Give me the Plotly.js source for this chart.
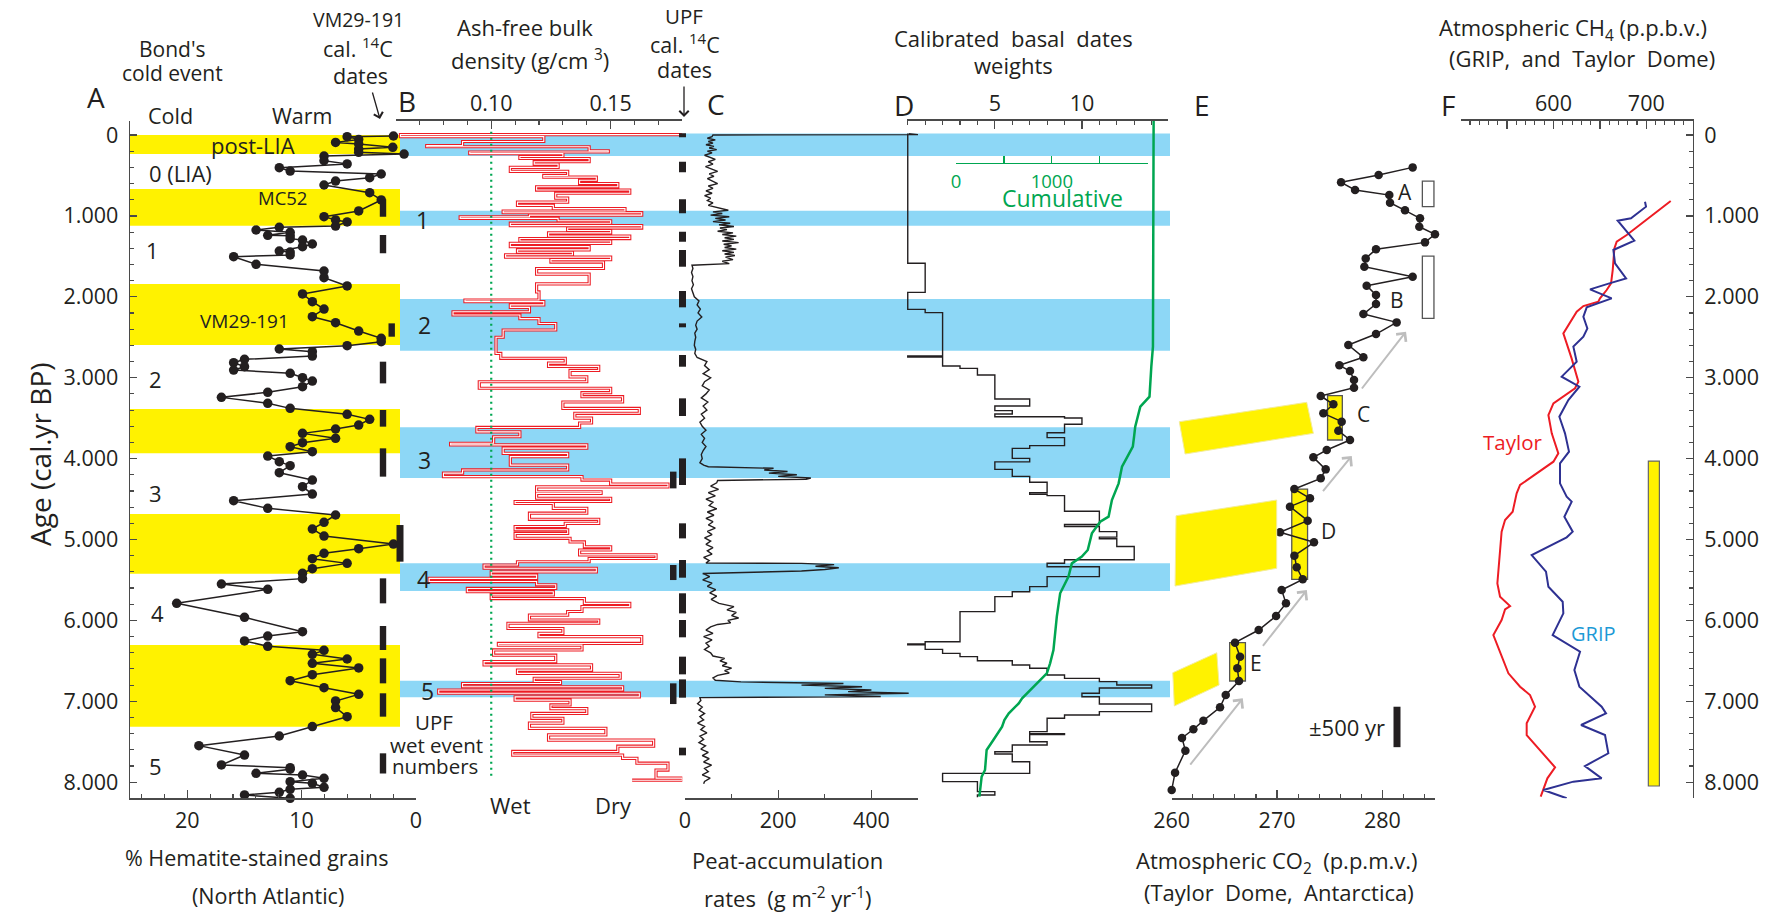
<!DOCTYPE html>
<html><head><meta charset="utf-8">
<script src="https://cdn.plot.ly/plotly-3.0.1.min.js"></script>
<style>html,body{margin:0;padding:0;background:#fff}#chart{width:1770px;height:912px}</style>
</head><body><div id="chart"></div>
<script>
// ---------------- DATA ----------------
// Y axis (age, cal. yr BP)
const AGE_TICKS = [0,1000,2000,3000,4000,5000,6000,7000,8000];
const AGE_LABELS = ['0','1.000','2.000','3.000','4.000','5.000','6.000','7.000','8.000'];

// A: % hematite-stained grains (North Atlantic)
const A_age = [12,21,54,91,111,152,173,214,235,260,317,358,404,445,482,527,569,618,713,803,939,1009,1050,1075,1125,1141,1174,1203,1240,1244,1281,1298,1347,1380,1434,1446,1483,1504,1599,1681,1763,1866,1965,2060,2151,2246,2320,2423,2513,2555,2604,2645,2678,2732,2773,2814,2864,2905,2946,3000,3041,3111,3181,3243,3317,3379,3453,3515,3585,3634,3688,3749,3803,3853,3914,3968,4038,4087,4174,4265,4347,4438,4520,4615,4697,4788,4870,4957,5056,5113,5171,5237,5295,5361,5418,5484,5550,5616,5789,5962,6139,6193,6254,6320,6370,6419,6477,6531,6588,6671,6745,6832,6914,6996,7078,7190,7313,7429,7548,7664,7787,7820,7840,7890,7911,7952,7993,8014,8063,8088,8125,8158,8199];
const A_val = [1.97,6.02,5.01,7.03,5.01,2.03,5.01,5.01,1.04,8.04,8.04,6.02,11.95,11.0,3.04,4.05,7.03,8.04,4.05,3.04,5.01,8.04,7.03,6.02,7.03,11.95,13.98,11.0,12.96,11.0,11.0,9.92,9.06,9.92,11.95,11.0,11.0,15.94,13.98,8.04,8.04,6.02,9.92,9.06,8.04,9.06,7.03,5.01,3.04,3.04,6.02,11.95,9.06,9.06,14.99,15.94,14.99,15.94,11.0,9.92,9.06,9.92,12.96,17.01,12.96,11.0,6.02,4.05,5.01,7.03,9.92,7.03,9.92,11.0,9.06,12.96,11.95,11.0,11.95,9.06,9.92,9.06,15.94,12.96,7.03,8.04,9.06,8.04,1.97,5.01,8.04,9.06,6.02,9.06,9.92,9.92,17.01,12.96,20.92,14.99,9.92,12.96,14.99,12.96,8.04,9.06,6.02,9.06,5.01,9.06,11.0,8.04,5.01,7.03,7.03,6.02,9.06,11.95,18.98,14.99,17.01,11.0,11.0,13.98,9.92,8.04,11.0,9.06,8.04,11.0,11.95,14.99,11.0];

// Bond warm intervals (yellow) and UPF wet events (blue)
const BOND_start = [0,667,1842,3387,4685,6304];
const BOND_end   = [235,1121,2596,3935,5423,7314];
const WET_start = [-20,935,2027,3613,5294,6745];
const WET_end   = [260,1121,2666,4240,5637,6950];
const WET_labels = ['1','2','3','4','5'];

// VM29-191 cal 14C dates (age ranges)
const VM_start = [795,1236,2328,2802,3399,3873,4821,5480,6069,6469,6901,7643];
const VM_end   = [1009,1463,2493,3070,3605,4223,5274,5789,6366,6778,7190,7891];
const VM_col   = [0,0,1,0,0,0,2,0,0,0,0,0];
// UPF cal 14C dates
const UPF_start = [-21,330,795,1195,1421,1928,2328,2719,3255,3997,4800,5253,5665,5995,6448,6729,7573];
const UPF_end   = [29,461,968,1318,1628,2130,2377,2864,3473,4326,4986,5472,5913,6209,6667,6955,7668];
const UPF2_start = [4161,5315,6778];
const UPF2_end   = [4368,5501,7034];

// B: ash-free bulk density (g/cm3)
const B_age = [-20,-5,20,80,130,145,195,210,230,265,290,330,360,400,450,500,520,560,600,640,680,720,780,830,870,910,940,960,990,1010,1030,1060,1090,1120,1150,1180,1210,1250,1280,1310,1340,1380,1420,1450,1480,1510,1540,1570,1650,1720,1840,1940,2040,2060,2100,2130,2185,2225,2270,2330,2410,2500,2700,2760,2820,2860,2910,2990,3050,3130,3185,3235,3300,3380,3440,3500,3560,3615,3670,3730,3810,3830,3870,3935,3976,4080,4140,4180,4223,4265,4315,4350,4410,4430,4490,4530,4555,4615,4675,4750,4800,4840,4880,4925,4985,5030,5090,5130,5190,5235,5275,5315,5355,5400,5440,5480,5520,5560,5605,5645,5685,5730,5790,5830,5890,5935,5995,6035,6100,6160,6200,6285,6305,6365,6430,6510,6550,6615,6655,6715,6755,6780,6820,6860,6900,6945,6985,7045,7090,7150,7210,7270,7335,7415,7480,7555,7620,7665,7705,7765,7850,7950,7975];
const B_val = [0.180,0.062,0.122,0.088,0.073,0.141,0.149,0.091,0.130,0.112,0.141,0.118,0.128,0.108,0.132,0.122,0.144,0.137,0.153,0.119,0.158,0.127,0.132,0.111,0.126,0.156,0.105,0.163,0.116,0.087,0.128,0.150,0.108,0.163,0.132,0.150,0.124,0.158,0.112,0.150,0.108,0.141,0.111,0.134,0.106,0.150,0.125,0.147,0.119,0.141,0.119,0.120,0.089,0.122,0.108,0.116,0.084,0.112,0.120,0.127,0.105,0.102,0.104,0.131,0.124,0.145,0.133,0.140,0.095,0.150,0.138,0.155,0.130,0.162,0.135,0.142,0.137,0.094,0.112,0.101,0.083,0.140,0.105,0.132,0.108,0.132,0.088,0.080,0.138,0.150,0.174,0.119,0.146,0.119,0.150,0.110,0.126,0.140,0.116,0.145,0.131,0.110,0.132,0.110,0.133,0.139,0.150,0.137,0.169,0.141,0.111,0.097,0.144,0.100,0.119,0.074,0.119,0.127,0.090,0.126,0.100,0.139,0.158,0.138,0.132,0.116,0.145,0.107,0.130,0.120,0.163,0.103,0.138,0.101,0.127,0.097,0.142,0.111,0.154,0.118,0.129,0.088,0.155,0.078,0.162,0.110,0.133,0.125,0.140,0.117,0.130,0.116,0.148,0.124,0.168,0.153,0.109,0.155,0.161,0.174,0.169,0.180,0.159];

// C: peat-accumulation rates (g m-2 yr-1)
const C_age = [-15,-5,0,20,40,60,80,100,120,140,160,180,200,220,250,280,300,330,360,390,420,450,480,510,540,570,600,630,660,690,720,750,780,810,840,870,900,930,950,970,990,1010,1030,1050,1070,1090,1110,1130,1150,1170,1190,1210,1230,1250,1270,1290,1310,1330,1350,1370,1390,1410,1430,1450,1470,1490,1510,1540,1560,1590,1610,1650,1700,1750,1800,1850,1900,1950,2000,2050,2100,2150,2200,2250,2300,2350,2400,2450,2500,2550,2600,2650,2700,2750,2800,2850,2900,2950,3000,3050,3100,3150,3200,3250,3300,3350,3400,3450,3500,3550,3600,3650,3700,3750,3800,3850,3900,3950,4000,4050,4080,4100,4120,4140,4160,4180,4200,4220,4240,4255,4270,4300,4340,4380,4420,4460,4500,4540,4580,4620,4660,4700,4740,4780,4820,4860,4900,4940,4980,5020,5060,5100,5140,5180,5220,5260,5290,5295,5310,5330,5350,5370,5390,5420,5430,5460,5500,5540,5580,5620,5660,5700,5740,5790,5830,5870,5900,5940,5970,6000,6030,6050,6080,6120,6160,6200,6240,6280,6320,6360,6400,6440,6470,6500,6530,6560,6590,6620,6650,6680,6710,6740,6760,6780,6800,6820,6840,6860,6880,6900,6920,6940,6955,6990,7030,7070,7110,7150,7190,7230,7270,7310,7350,7390,7430,7470,7510,7550,7590,7630,7670,7710,7750,7790,7830,7870,7910,7950,7990,8020];
const C_val = [480,500,60,58,48,65,50,60,45,62,52,68,48,58,42,55,65,50,60,44,56,70,52,62,48,58,70,50,60,45,58,42,55,48,60,50,75,93,60,80,55,95,65,87,60,97,73,105,75,90,70,103,80,110,85,105,80,115,83,100,85,110,80,105,85,107,87,103,80,95,15,17,14,17,15,18,14,17,20,30,26,33,28,36,26,23,26,21,23,21,20,23,21,26,47,42,52,39,55,42,37,52,45,35,49,39,47,35,42,32,37,45,35,42,37,45,39,35,37,32,40,50,190,170,220,180,240,200,270,260,70,68,55,72,50,65,45,60,52,68,48,62,45,60,50,65,48,58,42,55,45,60,48,58,40,52,45,250,320,280,330,300,250,38,43,53,38,58,48,66,53,68,56,73,105,90,110,100,115,92,98,70,55,45,60,40,58,45,52,42,55,60,85,75,90,80,100,85,95,70,60,65,120,340,250,380,300,400,350,480,300,420,32,34,27,37,30,42,32,40,27,42,34,47,32,40,30,44,34,50,37,52,40,57,42,50,37,54,42,40];

// D: calibrated basal dates weights (step histogram) and cumulative
const D_age = [-20,1586,1945,2155,2196,2732,2745,2855,2884,2967,3263,3350,3407,3448,3482,3498,3576,3680,3740,3840,3873,3997,4040,4133,4220,4293,4420,4440,4458,4650,4815,4840,4903,4970,4990,5086,5251,5293,5336,5459,5583,5645,5706,5892,6263,6290,6300,6358,6407,6448,6498,6551,6592,6674,6716,6757,6798,6836,6901,6943,7034,7128,7169,7210,7375,7400,7410,7500,7540,7623,7652,7747,7891,7993,8117,8159,8185];
const D_val = [0,1,0,1,2,0,2,3,4,5,7,5,6,5,9,10,9,8,9,7,6,7,5,6,7,8,7,8,9,11,9,11,12,11,12,13,9,8,11,8,7,6,5,3,1,0,1,2,3,4,6,7,8,9,11,12,14,11,10,11,14,11,9,8,7,9,7,8,6,5,6,7,2,4,5,4,4];
const CUM_age = [-180,2616,2864,3070,3234,3358,3482,3605,3729,3853,3950,4100,4306,4512,4718,4780,4924,5047,5130,5212,5295,5459,5542,5665,5954,6366,6531,6654,6737,6860,6963,7025,7149,7231,7314,7478,7602,7849,7931,8179];
const CUM_val = [2062,2055,2038,2029,2019,1923,1898,1870,1858,1845,1800,1732,1697,1627,1592,1505,1418,1393,1375,1313,1209,1174,1139,1087,1052,1017,982,948,878,773,690,655,551,505,481,390,320,303,268,244];

// E: atmospheric CO2 (Taylor Dome)
const E_age = [400,494,585,680,742,836,931,1030,1133,1228,1327,1413,1525,1628,1751,1862,1978,2089,2213,2316,2460,2596,2748,2847,2917,3028,3123,3226,3329,3440,3543,3655,3770,3894,3984,4133,4244,4376,4491,4594,4767,4911,5035,5200,5344,5492,5624,5789,5946,6119,6275,6448,6592,6749,6922,7074,7239,7346,7454,7610,7882,8096];
const E_val = [282.88,279.65,276.08,277.41,280.66,280.73,282.15,283.58,283.51,285.0,284.05,279.40,278.42,278.29,282.88,278.51,279.40,279.40,278.20,281.36,279.40,276.77,278.20,275.92,276.93,277.31,277.31,274.15,275.35,274.40,276.14,275.82,276.93,274.72,273.45,274.62,274.15,271.65,273.13,271.23,272.91,270.28,273.51,271.65,271.87,272.44,270.44,270.85,269.91,268.26,266.01,266.49,266.23,266.39,265.13,264.59,263.01,262.06,260.98,261.30,260.32,260.0];
// CO2 plateaus A-E: [CO2 low, CO2 high, age top, age bottom]
const E_BOX_names = ['A','B','C','D','E'];
const E_BOX_lo  = [283.8,283.8,274.8,271.4,265.5];
const E_BOX_hi  = [284.9,284.9,276.2,272.9,267.0];
const E_BOX_top = [569,1496,3222,4376,6275];
const E_BOX_bot = [886,2266,3770,5492,6749];
const E_BOX_fill = ['#ffffff','#ffffff','#fff200','#fff200','#fff200'];
// grey trend arrows [tail CO2, tail age, head CO2, head age]
const E_ARROWS = [[277.95,3152,282.25,2431],[274.25,4420,277.1,3968],[268.55,6332,272.83,5625],[261.65,7800,266.75,6963]];
// yellow connectors (CO2, age corners)
const CONN = [
  [[260.72,3544],[272.82,3304],[273.45,3688],[261.27,3943]],
  [[260.41,4706],[269.97,4512],[269.97,5356],[260.32,5575]],
  [[260.10,6647],[264.28,6400],[264.50,6799],[260.25,7058]]
];

// F: atmospheric CH4
const TAYLOR_age = [816,1236,1318,1401,1669,1834,1916,2019,2060,2114,2184,2452,2761,3049,3131,3317,3461,3688,3935,4038,4326,4429,4656,4759,4903,5047,5418,5542,5706,5822,5863,5995,6181,6284,6654,6819,6922,7066,7272,7417,7561,7685,7816,7952,8179];
const TAYLOR_val = [726.3,678.9,668.1,665.6,663.8,662.0,657.3,650.1,648.3,632.2,625.0,610.6,619.5,626.8,623.2,599.9,594.5,598.1,605.2,599.9,564.0,560.3,556.0,547.8,544.1,543.1,540.6,539.5,542.4,553.2,547.8,544.1,535.2,538.8,551.4,564.0,574.7,580.1,571.1,571.1,581.9,590.9,601.7,593.4,586.2];
const GRIP_age = [824,886,1030,1059,1306,1421,1586,1772,1834,1908,2019,2130,2246,2390,2493,2616,2802,2987,3111,3276,3482,3688,3914,4059,4306,4470,4532,4718,4903,4973,5192,5398,5583,5769,5913,6181,6387,6613,6819,7066,7149,7293,7417,7520,7643,7800,7952,7993,8096,8199];
const GRIP_val = [698.6,699.7,683.5,669.2,687.1,664.5,666.3,678.2,660.2,639.4,662.7,635.8,632.2,636.5,632.2,621.4,625.0,608.8,627.9,616.0,606.3,612.4,616.7,607.0,607.0,614.2,619.6,611.7,620.7,614.2,576.5,591.9,594.5,609.9,610.6,599.1,628.6,622.5,627.9,651.9,656.6,629.7,655.5,657.3,659.1,633.9,651.9,621.4,589.1,614.2];
const F_BAR = {lo:702.2, hi:714.1, top:4030, bot:8047};
const SCALE_BAR_YR = [7067, 7567];

// ---------------- LAYOUT HELPERS ----------------
const W = 1770, H = 912;
const px = X => X / W;
const py = Y => 1 - Y / H;
const FONT = '"Open Sans", "Noto Sans", sans-serif';
const INK = '#231f20', AXC = '#4a4a4a', RED = '#ed1c24', GREEN = '#00a651',
      YELLOW = '#fff200', BLUE = '#8dd7f6', GRIPLINE = '#2e3192', GRIPTXT = '#1c9ad6';
const TS = 21.5;   // title text size
const KS = 21.5;   // tick label size
const LS = 28;     // panel letter size

function xax(dom, range, side, tickvals, ticktext, minorDtick, extra) {
  return Object.assign({
    domain: [px(dom[0]), px(dom[1])], range: range, anchor: 'y', side: side,
    showline: true, linecolor: AXC, linewidth: 1.3, mirror: false,
    ticks: 'inside', ticklen: 8, tickwidth: 1.2, tickcolor: AXC,
    tickmode: 'array', tickvals: tickvals, ticktext: ticktext,
    tickfont: {size: KS, color: INK, family: FONT}, ticklabelstandoff: side === 'top' ? 0 : 3,
    minor: {dtick: minorDtick, tick0: 0, ticks: 'inside', ticklen: 4, tickcolor: AXC, tickwidth: 1.1, showgrid: false},
    showgrid: false, zeroline: false, fixedrange: true
  }, extra || {});
}

const yRange = [8199, -177];
const yDom = [py(798.3), py(120.7)];

const layout = {
  width: W, height: H, margin: {l: 0, r: 0, t: 0, b: 0},
  paper_bgcolor: '#ffffff', plot_bgcolor: 'rgba(0,0,0,0)',
  showlegend: false, font: {family: FONT, color: INK, size: TS},
  yaxis: {domain: yDom, range: yRange, anchor: 'x', side: 'left', showline: true, linecolor: AXC, linewidth: 1.3,
    ticks: 'inside', ticklen: 7, tickwidth: 1.2, tickcolor: AXC, tickmode: 'array', tickvals: AGE_TICKS, ticktext: AGE_LABELS,
    tickfont: {size: KS, color: INK, family: FONT}, ticklabelstandoff: 6,
    minor: {dtick: 200, tick0: 0, ticks: 'inside', ticklen: 4, tickcolor: AXC, tickwidth: 1.1, showgrid: false},
    showgrid: false, zeroline: false, fixedrange: true},
  yaxis2: {overlaying: 'y', anchor: 'x6', side: 'right', range: yRange, showline: true, linecolor: AXC, linewidth: 1.3,
    ticks: 'inside', ticklen: 7, tickwidth: 1.2, tickcolor: AXC, tickmode: 'array', tickvals: AGE_TICKS, ticktext: AGE_LABELS,
    tickfont: {size: KS, color: INK, family: FONT}, ticklabelstandoff: 6,
    minor: {dtick: 200, tick0: 0, ticks: 'inside', ticklen: 4, tickcolor: AXC, tickwidth: 1.1, showgrid: false},
    showgrid: false, zeroline: false, fixedrange: true},
  xaxis:  xax([130, 416], [25, 0], 'bottom', [0, 10, 20], ['0', '10', '20'], 2),
  xaxis2: xax([395.7, 682.3], [0.06, 0.18], 'top', [0.10, 0.15], ['0.10', '0.15'], 0.01),
  xaxis3: xax([685, 918], [0, 500], 'bottom', [0, 200, 400], ['0', '200', '400'], 100),
  xaxis4: xax([906.7, 1168], [-0.06, 14.94], 'top', [5, 10], ['5', '10'], 1),
  xaxis5: xax([1171.7, 1435], [260, 285], 'bottom', [260, 270, 280], ['260', '270', '280'], 2),
  xaxis6: xax([1460.7, 1692.7], [500, 750], 'top', [550, 600, 650, 700, 750], ['', '600', '', '700', ''], 10),
  xaxis7: {overlaying: 'x4', range: [-514, 2212], visible: false, fixedrange: true},
  xaxis8: {domain: [px(956), px(1147.7)], range: [0, 2000], anchor: 'free', position: py(163), side: 'bottom',
    showline: true, linecolor: GREEN, linewidth: 1.3, ticks: 'inside', ticklen: 7, tickcolor: GREEN, tickwidth: 1.2,
    tickmode: 'array', tickvals: [0, 500, 1000, 1500, 2000], ticktext: ['0', '', '1000', '', ''],
    tickfont: {size: 18.5, color: GREEN, family: FONT}, ticklabelstandoff: 1, showgrid: false, zeroline: false, fixedrange: true},
  shapes: [], annotations: []
};

// bands
BOND_start.forEach((s, i) => layout.shapes.push({type: 'rect', xref: 'paper', yref: 'y', x0: px(130), x1: px(400),
  y0: s, y1: BOND_end[i], fillcolor: YELLOW, line: {width: 0}, layer: 'below'}));
WET_start.forEach((s, i) => layout.shapes.push({type: 'rect', xref: 'paper', yref: 'y', x0: px(400), x1: px(1170),
  y0: s, y1: WET_end[i], fillcolor: BLUE, line: {width: 0}, layer: 'below'}));
// wet = 0.10 reference (green dotted)
layout.shapes.push({type: 'line', xref: 'x2', yref: 'y', x0: 0.10, x1: 0.10, y0: -40, y1: 7970,
  line: {color: GREEN, width: 2.2, dash: '2px,4px'}});
// VM29-191 date bars
const VM_X = [383, 391.7, 400];
VM_start.forEach((s, i) => { const c = VM_X[VM_col[i]]; const w = VM_col[i] === 2 ? 3.5 : 3.2;
  layout.shapes.push({type: 'rect', xref: 'paper', yref: 'y', x0: px(c - w), x1: px(c + w), y0: s, y1: VM_end[i],
    fillcolor: INK, line: {width: 0}}); });
UPF_start.forEach((s, i) => layout.shapes.push({type: 'rect', xref: 'paper', yref: 'y', x0: px(679), x1: px(686),
  y0: s, y1: UPF_end[i], fillcolor: INK, line: {width: 0}}));
UPF2_start.forEach((s, i) => layout.shapes.push({type: 'rect', xref: 'paper', yref: 'y', x0: px(670), x1: px(676.5),
  y0: s, y1: UPF2_end[i], fillcolor: INK, line: {width: 0}}));
// E connectors and boxes
CONN.forEach(poly => layout.shapes.push({type: 'path', xref: 'x5', yref: 'y',
  path: 'M' + poly.map(p => p[0] + ',' + p[1]).join('L') + 'Z', fillcolor: YELLOW, line: {color: '#f3ec9a', width: 1}}));
E_BOX_lo.forEach((lo, i) => layout.shapes.push({type: 'rect', xref: 'x5', yref: 'y', x0: lo, x1: E_BOX_hi[i],
  y0: E_BOX_top[i], y1: E_BOX_bot[i], fillcolor: E_BOX_fill[i], line: {color: '#555555', width: 1.3}, layer: 'below'}));
// F yellow bar
layout.shapes.push({type: 'rect', xref: 'x6', yref: 'y', x0: F_BAR.lo, x1: F_BAR.hi, y0: F_BAR.top, y1: F_BAR.bot,
  fillcolor: YELLOW, line: {color: '#666666', width: 1.2}});
// +-500 yr scale bar
layout.shapes.push({type: 'rect', xref: 'paper', yref: 'y', x0: px(1393.5), x1: px(1400.5),
  y0: SCALE_BAR_YR[0], y1: SCALE_BAR_YR[1], fillcolor: INK, line: {width: 0}});

// text
function T(text, X, Y, size, opts) {
  layout.annotations.push(Object.assign({text: text, xref: 'paper', yref: 'paper', x: px(X), y: py(Y),
    xanchor: 'center', yanchor: 'middle', showarrow: false, font: {size: size, color: INK, family: FONT}}, opts || {}));
}
T('A', 96, 97, LS); T("Bond's", 172, 49, 21); T('cold event', 172, 73, 21);
T('VM29-191', 358, 19, 19.5); T('cal. <sup>14</sup>C', 358, 47, TS); T('dates', 360, 75, TS);
T('Cold', 170, 115, TS); T('Warm', 302, 115, TS);
T('post-LIA', 253, 145, 22); T('0 (LIA)', 147, 173, 22, {xanchor: 'left'}); T('MC52', 282, 197, 18.5);
T('VM29-191', 244, 321, 19);
[['1', 152, 250], ['2', 155, 379], ['3', 155, 493], ['4', 157, 613], ['5', 155, 766]].forEach(a => T(a[0], a[1], a[2], 22));
T('% Hematite-stained grains', 256, 857, TS); T('(North Atlantic)', 268, 895, TS);
T('Age (cal.yr BP)', 40, 454, 28, {textangle: -90});
T('B', 407, 101, LS); T('Ash-free bulk', 525, 27, 22); T('density (g/cm <sup>3</sup>)', 530, 60, 22);
T('UPF', 684, 16, 20.5); T('cal. <sup>14</sup>C', 685, 43, TS); T('dates', 684, 70, TS);
T('C', 716, 104, LS);
const WET_lab_pos = [[422, 220], [424, 325], [424, 460], [423, 579], [427, 691]];
WET_labels.forEach((t, i) => T(t, WET_lab_pos[i][0], WET_lab_pos[i][1], 23));
T('UPF', 434, 722, 20.5); T('wet event', 436, 745, 20.5); T('numbers', 435, 766, 20.5);
T('Wet', 510, 805, 22); T('Dry', 613, 805, 22);
T('Peat-accumulation', 787, 860, 22); T('rates  (g m<sup>-2</sup> yr<sup>-1</sup>)', 788, 897, 22);
T('Calibrated  basal  dates', 1013, 38, 22); T('weights', 1013, 65, 22);
T('D', 904, 105, LS);
T('Cumulative', 1062, 198, 23, {font: {size: 23, color: GREEN, family: FONT}});
T('E', 1202, 105, LS);
E_BOX_names.forEach((n, i) => T(n, [1405, 1397, 1363, 1328, 1256][i], [192, 300, 414, 531, 663][i], 21));
T('\u00b1500 yr', 1347, 727, 22);
T('Atmospheric CO<sub>2</sub>  (p.p.m.v.)', 1277, 862, 22); T('(Taylor  Dome,  Antarctica)', 1279, 892, 22);
T('F', 1448, 105, LS);
T('Atmospheric CH<sub>4</sub> (p.p.b.v.)', 1573, 29, 22); T('(GRIP,  and  Taylor  Dome)', 1582, 58, 22);
T('Taylor', 1512, 442, 20.5, {font: {size: 20.5, color: RED, family: FONT}});
T('GRIP', 1593, 633, 20, {font: {size: 20, color: GRIPTXT, family: FONT}});
// pointer arrows
layout.annotations.push({text: '', xref: 'paper', yref: 'paper', x: px(380), y: py(119), ax: -8, ay: -28,
  showarrow: true, arrowhead: 4, arrowsize: 1.4, arrowwidth: 1.3, arrowcolor: INK});
layout.annotations.push({text: '', xref: 'paper', yref: 'paper', x: px(684), y: py(117), ax: 0, ay: -32,
  showarrow: true, arrowhead: 4, arrowsize: 1.4, arrowwidth: 1.3, arrowcolor: INK});
E_ARROWS.forEach(a => layout.annotations.push({text: '', xref: 'x5', yref: 'y', axref: 'x5', ayref: 'y',
  x: a[2], y: a[3], ax: a[0], ay: a[1], showarrow: true, arrowhead: 4, arrowsize: 1.2, arrowwidth: 2, arrowcolor: '#bdbdbd'}));

// ---------------- TRACES ----------------
const traces = [
  {type: 'scatter', x: A_val, y: A_age, xaxis: 'x', yaxis: 'y', mode: 'lines+markers',
    line: {color: INK, width: 1.5}, marker: {size: 9.5, color: INK}, cliponaxis: false, hoverinfo: 'skip'},
  {type: 'scatter', x: B_val, y: B_age, xaxis: 'x2', yaxis: 'y', mode: 'lines',
    line: {color: RED, width: 3.2, shape: 'vh'}, hoverinfo: 'skip'},
  {type: 'scatter', x: B_val, y: B_age, xaxis: 'x2', yaxis: 'y', mode: 'lines',
    line: {color: '#ffffff', width: 1.1, shape: 'vh'}, hoverinfo: 'skip'},
  {type: 'scatter', x: C_val, y: C_age, xaxis: 'x3', yaxis: 'y', mode: 'lines',
    line: {color: INK, width: 1.4}, hoverinfo: 'skip'},
  {type: 'scatter', x: D_val, y: D_age, xaxis: 'x4', yaxis: 'y', mode: 'lines',
    line: {color: INK, width: 1.4, shape: 'vh'}, hoverinfo: 'skip'},
  {type: 'scatter', x: CUM_val, y: CUM_age, xaxis: 'x7', yaxis: 'y', mode: 'lines',
    line: {color: GREEN, width: 2.5}, hoverinfo: 'skip'},
  {type: 'scatter', x: [], y: [], xaxis: 'x8', yaxis: 'y', mode: 'lines', hoverinfo: 'skip'},
  {type: 'scatter', x: E_val, y: E_age, xaxis: 'x5', yaxis: 'y', mode: 'lines+markers',
    line: {color: INK, width: 1.5}, marker: {size: 8.5, color: INK}, cliponaxis: false, hoverinfo: 'skip'},
  {type: 'scatter', x: TAYLOR_val, y: TAYLOR_age, xaxis: 'x6', yaxis: 'y', mode: 'lines',
    line: {color: RED, width: 2}, hoverinfo: 'skip'},
  {type: 'scatter', x: GRIP_val, y: GRIP_age, xaxis: 'x6', yaxis: 'y', mode: 'lines',
    line: {color: GRIPLINE, width: 2}, hoverinfo: 'skip'},
  {type: 'scatter', x: [], y: [], xaxis: 'x6', yaxis: 'y2', mode: 'lines', hoverinfo: 'skip'}
];

Plotly.newPlot('chart', traces, layout, {displayModeBar: false, staticPlot: true});
</script></body></html>
